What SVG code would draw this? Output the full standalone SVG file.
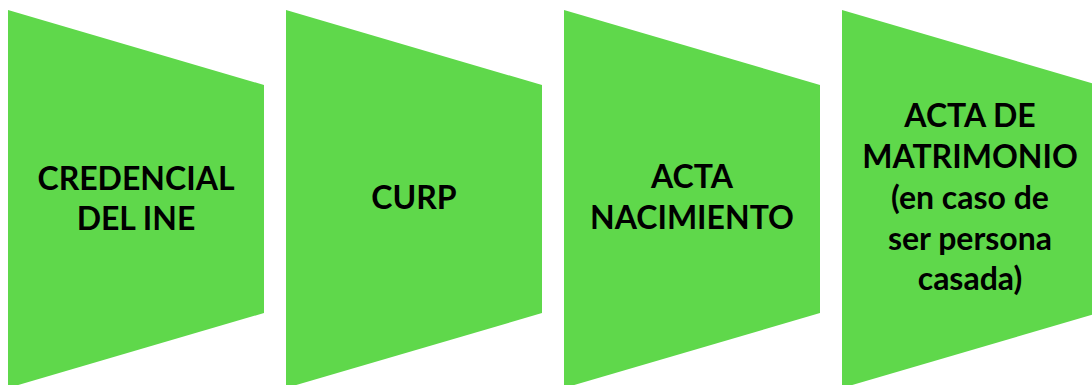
<svg xmlns="http://www.w3.org/2000/svg" width="1092" height="385" viewBox="0 0 1092 385">
<style>
.shape{fill:#5FD84B;stroke:none}
.lbl{font-family:Lato,"Open Sans","Liberation Sans",sans-serif;font-weight:bold;font-size:32px;fill:#000;text-anchor:middle}
</style>
<rect width="1092" height="385" fill="#ffffff"/>
<g id="connectors"></g>
<g id="node1">
<polygon class="shape" points="8,10 264,85 264,313 8,388"/>
<text class="lbl" x="136" y="190">CREDENCIAL</text>
<text class="lbl" x="136" y="230">DEL INE</text>
</g>
<g id="node2">
<polygon class="shape" points="286,10 542,85 542,313 286,388"/>
<text class="lbl" x="414" y="209">CURP</text>
</g>
<g id="node3">
<polygon class="shape" points="564,10 820,85 820,313 564,388"/>
<text class="lbl" x="692" y="188">ACTA</text>
<text class="lbl" x="692" y="229">NACIMIENTO</text>
</g>
<g id="node4">
<polygon class="shape" points="842,10 1098,85 1098,313 842,388"/>
<text class="lbl" x="970" y="127">ACTA DE</text>
<text class="lbl" x="970" y="168">MATRIMONIO</text>
<text class="lbl" x="970" y="209">(en caso de</text>
<text class="lbl" x="970" y="250">ser persona</text>
<text class="lbl" x="970" y="290">casada)</text>
</g>
</svg>
